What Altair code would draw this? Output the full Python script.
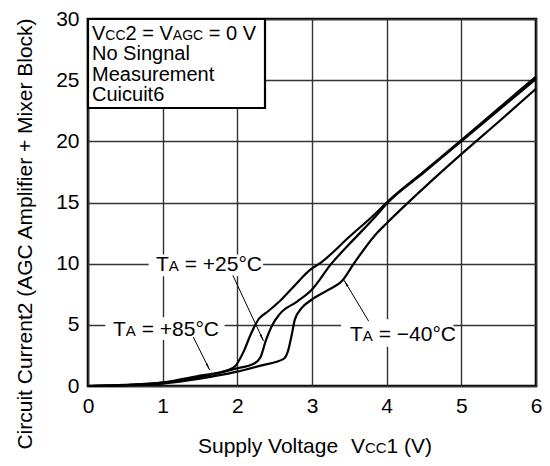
import math
import altair as alt
import pandas as pd

# ---------------- data ----------------
v_85 = [0.0, 0.5, 1.0, 1.5, 1.87, 1.98, 2.09, 2.18, 2.29, 2.40, 2.57, 2.75, 2.99, 3.10, 3.5, 3.85, 4.0, 4.5, 5.0, 5.5, 6.0]
i_85 = [0.0, 0.09, 0.3, 0.85, 1.28, 1.68, 2.89, 4.23, 5.5, 6.05, 6.95, 8.1, 9.57, 10.0, 12.2, 14.1, 15.0, 17.55, 20.1, 22.7, 25.3]

v_25 = [0.0, 0.5, 1.0, 1.5, 1.98, 2.22, 2.31, 2.38, 2.46, 2.57, 2.80, 2.99, 3.26, 3.5, 3.85, 4.0, 4.5, 5.0, 5.5, 6.0]
i_25 = [0.0, 0.07, 0.25, 0.72, 1.42, 1.82, 2.35, 3.69, 4.89, 5.9, 6.9, 7.83, 10.0, 11.6, 13.85, 14.9, 17.45, 20.0, 22.55, 25.1]

v_m40 = [0.0, 0.5, 1.0, 1.5, 1.98, 2.3, 2.62, 2.68, 2.73, 2.77, 2.86, 2.99, 3.2, 3.41, 3.56, 3.85, 4.0, 4.5, 5.0, 5.5, 6.0]
i_m40 = [0.0, 0.05, 0.2, 0.6, 1.15, 1.65, 2.22, 2.89, 4.23, 5.43, 6.36, 7.03, 7.8, 8.64, 10.0, 12.37, 13.3, 16.2, 18.95, 21.6, 24.3]

series_names = ["+85", "+25", "-40"]

x_ticks = [0, 1, 2, 3, 4, 5, 6]
y_ticks = [0, 5, 10, 15, 20, 25, 30]

y_title = "Circuit Current2 (AGC Amplifier + Mixer Block)"
legend_lines = [
    [("V", "b"), ("CC", "s"), ("2 = V", "b"), ("AGC", "s"), (" = 0 V", "b")],
    [("No Singnal", "b")],
    [("Measurement", "b")],
    [("Cuicuit6", "b")],
]
x_title_pieces = [("Supply Voltage", "b"), ("  V", "b"), ("CC", "s"), ("1 (V)", "b")]
label_85 = [("T", "b"), ("A", "s"), (" = +85°C", "b")]
label_25 = [("T", "b"), ("A", "s"), (" = +25°C", "b")]
label_m40 = [("T", "b"), ("A", "s"), (" = \u221240°C", "b")]

# arrows (data coords: start -> tip)
arrow_start_x = [1.41, 1.94, 3.76]
arrow_start_y = [4.0, 9.04, 5.29]
arrow_end_x = [1.63, 2.35, 3.43]
arrow_end_y = [1.3, 3.69, 8.64]

# ---------------- layout ----------------
TOP, BOTTOM = 19, 386
LEFT = 88
W, H = 448, BOTTOM - TOP
XMAX, YMAX = 6, 30
PX_X = W / XMAX
PX_Y = H / YMAX
FONT = "Liberation Sans"


def px2x(px):
    return (px - LEFT) / PX_X


def py2y(py):
    return (BOTTOM - py) / PX_Y


def ry2y(py):  # reference-image y pixel -> data
    return (386 - py) / 12.47


def rx2x(px):
    return (px - 88.5) / 75.7


WIDTHS = {'T': 611, 'A': 667, ' ': 278, '=': 584, '+': 584, '\u2212': 584, '°': 400, 'C': 722,
          'V': 667, 'G': 778, 'N': 722, 'o': 556, 'S': 667, 'i': 222, 'n': 556, 'g': 556,
          'a': 556, 'l': 222, 'M': 833, 'e': 556, 's': 500, 'u': 556, 'r': 333, 'm': 833,
          't': 278, 'c': 500, 'p': 556, 'y': 500, '(': 333, ')': 333}
for d in "0123456789":
    WIDTHS[d] = 556


def tw(s, size):
    return sum(WIDTHS.get(c, 556) for c in s) * size / 1000.0


def rich_rows(pieces, start_px, base_py, big, small):
    rows = []
    cur = start_px
    for s, kind in pieces:
        size = big if kind == "b" else small
        lead = len(s) - len(s.lstrip(" "))
        txt = s.strip(" ")
        rows.append({"text": txt, "x": px2x(cur + tw(s[:lead], size)), "y": py2y(base_py), "size": size})
        cur += tw(s, size)
    return rows


# ---------------- tables ----------------
curves = pd.concat([
    pd.DataFrame({"v": v_85, "i": i_85, "series": series_names[0]}),
    pd.DataFrame({"v": v_25, "i": i_25, "series": series_names[1]}),
    pd.DataFrame({"v": v_m40, "i": i_m40, "series": series_names[2]}),
])

text_rows = []
for k, line in enumerate(legend_lines):
    text_rows += rich_rows(line, 92, TOP + 21 + k * 20.3, 20, 14)
text_rows += rich_rows(x_title_pieces, 198, 453, 21, 15)
text_rows += rich_rows(label_25, 156, 271, 21, 15)
text_rows += rich_rows(label_85, 113, 336, 21, 15)
text_rows += rich_rows(label_m40, 350, 341, 21, 15)
texts = pd.DataFrame(text_rows)

ytitle_df = pd.DataFrame({"text": [y_title], "x": [px2x(31.5)], "y": [py2y(234)]})

label_boxes = pd.DataFrame({
    "x": [rx2x(150), rx2x(106), rx2x(345)],
    "x2": [rx2x(266), rx2x(227), rx2x(459)],
    "y": [ry2y(252), ry2y(316), ry2y(318)],
    "y2": [ry2y(274), ry2y(339), ry2y(346)],
})

legend_box = pd.DataFrame({"x": [0.0], "x2": [px2x(265)], "y": [30.0], "y2": [py2y(TOP + 89)]})

arrows = pd.DataFrame({"x": arrow_start_x, "y": arrow_start_y, "x2": arrow_end_x, "y2": arrow_end_y})
heads = []
for x0, y0, x1, y1 in zip(arrow_start_x, arrow_start_y, arrow_end_x, arrow_end_y):
    dxp = (x1 - x0) * PX_X
    dyp = -(y1 - y0) * PX_Y
    L = math.hypot(dxp, dyp)
    ang = math.degrees(math.atan2(dxp, -dyp)) % 360
    back = 4.5
    heads.append({"x": x1 - dxp / L * back / PX_X, "y": y1 + dyp / L * back / PX_Y, "angle": ang})
heads = pd.DataFrame(heads)

# ---------------- encodings ----------------
xscale = alt.Scale(domain=[0, XMAX], nice=False, zero=False)
yscale = alt.Scale(domain=[0, YMAX], nice=False, zero=False)
xaxis = alt.Axis(values=x_ticks, grid=True, title="", labelFontSize=21, labelPadding=9,
                 ticks=False, domain=False, labelFont=FONT, labelColor="black",
                 gridColor="#333333", gridWidth=1.4, labelFlush=False)
yaxis = alt.Axis(values=y_ticks, grid=True, title="", labelFontSize=21, labelPadding=9,
                 ticks=False, domain=False, labelFont=FONT, labelColor="black",
                 gridColor="#333333", gridWidth=1.4, labelFlush=False)


def X(f):
    return alt.X(f, type="quantitative", scale=xscale, axis=xaxis)


def Y(f):
    return alt.Y(f, type="quantitative", scale=yscale, axis=yaxis)


lines = alt.Chart(curves).mark_line(color="black", strokeWidth=2.2, interpolate="monotone").encode(
    x=X("v"), y=Y("i"), detail="series:N")

boxes = alt.Chart(label_boxes).mark_rect(fill="white").encode(
    x=X("x"), x2="x2", y=Y("y"), y2="y2")

legend = alt.Chart(legend_box).mark_rect(fill="white", stroke="black", strokeWidth=2.2).encode(
    x=X("x"), x2="x2", y=Y("y"), y2="y2")

shafts = alt.Chart(arrows).mark_rule(color="black", strokeWidth=1).encode(
    x=X("x"), y=Y("y"), x2="x2", y2="y2")

tips = alt.Chart(heads).mark_point(shape="wedge", filled=True, color="black", opacity=1, size=70).encode(
    x=X("x"), y=Y("y"), angle=alt.Angle("angle:Q", scale=None))

labels = alt.Chart(texts).mark_text(align="left", baseline="alphabetic", font=FONT, color="black").encode(
    x=X("x"), y=Y("y"), text="text:N", size=alt.Size("size:Q", scale=None))

ytitle = alt.Chart(ytitle_df).mark_text(align="center", baseline="alphabetic", font=FONT, color="black",
                                        fontSize=21, angle=270).encode(
    x=X("x"), y=Y("y"), text="text:N")

chart = alt.layer(lines, boxes, legend, shafts, tips, labels, ytitle).properties(
    width=W, height=H,
    autosize=alt.AutoSizeParams(type="none"),
    padding={"left": LEFT - 8, "top": TOP - 8, "right": 6, "bottom": 458 - BOTTOM},
    background="white",
).configure_view(stroke="black", strokeWidth=2.6).configure_legend(disable=True)

chart.save("out.html", embed_options={"renderer": "svg", "actions": False})
